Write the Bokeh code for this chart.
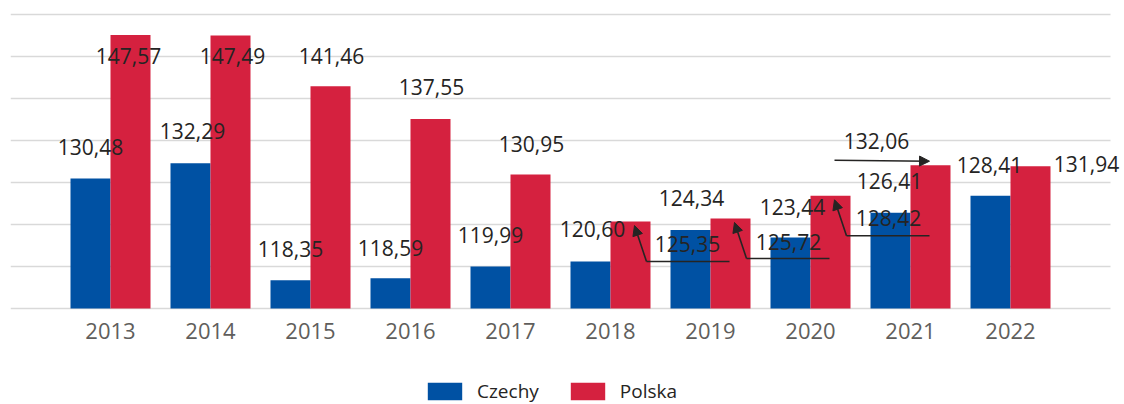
from bokeh.plotting import figure
from bokeh.models import (ColumnDataSource, Range1d, FixedTicker, LabelSet, Legend,
                          LegendItem, Arrow, NormalHead, Grid)
from bokeh.core.properties import value
from bokeh.embed import file_html
from bokeh.resources import INLINE

# ---------------- data ----------------
years = ["2013", "2014", "2015", "2016", "2017", "2018", "2019", "2020", "2021", "2022"]
czechy = [130.48, 132.29, 118.35, 118.59, 119.99, 120.60, 124.34, 123.44, 126.41, 128.41]
polska = [147.57, 147.49, 141.46, 137.55, 130.95, 125.35, 125.72, 128.42, 132.06, 131.94]
grid_values = [115, 120, 125, 130, 135, 140, 145, 150]

# ---------------- layout / style ----------------
BLUE = "#0051A3"
RED = "#D5213F"
TXT = "#252423"
AXT = "#605E5C"
FONT = "Open Sans"

W, H = 1124, 404
BL, BR, BT = 10, 0, 10
TOP_GAP = 4                   # px between frame top and the top gridline
BASE_PX = 294                 # pixel height of the gridded value area (115..150)
BELOW_PX = H - BT - TOP_GAP - BASE_PX   # space under the baseline for axis labels + legend
CAT_PX = 100                  # pixels per category slot
FW = W - BL - BR
X0 = -1
XG1 = len(years)              # right end of the gridded area
X1 = X0 + FW / CAT_PX         # a bit of room for the last outside label
G0, G1 = grid_values[0], grid_values[-1]
PY = (G1 - G0) / BASE_PX
PX = 1 / CAT_PX
Y0 = G0 - BELOW_PX * PY
Y1 = G1 + TOP_GAP * PY
DODGE = 0.2
BAR_W = 0.4

# label offsets (screen px, +x right, +y down)
cz_off = [(0, -31), (2, -32), (0, -31), (0, -30), (0, -32), (2, -32), (1, -32), (2, -31), (-1, -32), (-1, -31)]
pl_off = [(-2, 21), (2, 20), (1, -30), (1, -32), (1, -31), (57, 22), (58, 24), (58, 22), (-54, -24), (56, -2)]
elbow_leaders = [5, 6, 7]      # Polska labels moved below-right with an elbow leader
straight_leaders = [8]         # Polska label moved left with a straight leader


def fmt(v):
    return f"{v:.2f}".replace(".", ",")


idx = list(range(len(years)))
src = ColumnDataSource(dict(
    idx=idx,
    cz_x=[i - DODGE for i in idx],
    pl_x=[i + DODGE for i in idx],
    cz=czechy, pl=polska,
    cz_lbl=[fmt(v) for v in czechy], pl_lbl=[fmt(v) for v in polska],
    cz_dx=[o[0] for o in cz_off], cz_dy=[-o[1] for o in cz_off],
    pl_dx=[o[0] for o in pl_off], pl_dy=[-o[1] for o in pl_off],
))

p = figure(width=W, height=H, output_backend="svg", toolbar_location=None,
           x_range=Range1d(X0, X1), y_range=Range1d(Y0, Y1),
           y_axis_location=None,
           min_border_left=BL, min_border_right=BR, min_border_top=BT, min_border_bottom=0)
p.outline_line_color = None
p.xgrid.visible = False
p.ygrid.visible = False
p.background_fill_color = "white"
p.border_fill_color = "white"

g = Grid(dimension=1, ticker=FixedTicker(ticks=grid_values), cross_bounds=(X0, XG1),
         grid_line_color="#D9D9D9", grid_line_width=1.5)
p.add_layout(g)

xa = p.xaxis[0]
xa.fixed_location = G0
xa.ticker = FixedTicker(ticks=idx)
xa.major_label_overrides = {i: y for i, y in zip(idx, years)}
xa.axis_line_color = None
xa.major_tick_line_color = None
xa.minor_tick_line_color = None
xa.major_tick_out = 0
xa.major_tick_in = 0
xa.major_label_standoff = 14
xa.major_label_text_font = FONT
xa.major_label_text_font_size = "22px"
xa.major_label_text_color = AXT

r_cz = p.vbar(x="cz_x", top="cz", bottom=G0, width=BAR_W, source=src,
              fill_color=BLUE, line_color=None)
r_pl = p.vbar(x="pl_x", top="pl", bottom=G0, width=BAR_W, source=src,
              fill_color=RED, line_color=None)

for xf, yf, tf, dxf, dyf in (("cz_x", "cz", "cz_lbl", "cz_dx", "cz_dy"),
                             ("pl_x", "pl", "pl_lbl", "pl_dx", "pl_dy")):
    p.add_layout(LabelSet(x=xf, y=yf, text=tf, x_offset=dxf, y_offset=dyf, source=src,
                          text_align="center", text_baseline="middle",
                          text_font=value(FONT), text_font_size=value("21px"),
                          text_color=TXT))

# leader lines
ex = [idx[i] + DODGE for i in elbow_leaders]
ey = [polska[i] for i in elbow_leaders]
elb = ColumnDataSource(dict(
    tip_x=[x + 4 * PX for x in ex], tip_y=[y - 4 * PY for y in ey],
    bend_x=[x + 16 * PX for x in ex], bend_y=[y - 40 * PY for y in ey],
    end_x=[x + 99 * PX for x in ex], end_y=[y - 40 * PY for y in ey],
))
p.segment(x0="bend_x", y0="bend_y", x1="end_x", y1="end_y", source=elb,
          line_color=TXT, line_width=1.6)
p.add_layout(Arrow(end=NormalHead(size=10, fill_color=TXT, line_color=TXT),
                   x_start="bend_x", y_start="bend_y", x_end="tip_x", y_end="tip_y",
                   source=elb, line_color=TXT, line_width=1.6))

sx = [idx[i] + DODGE for i in straight_leaders]
sy = [polska[i] for i in straight_leaders]
st = ColumnDataSource(dict(
    x0=[x - 96 * PX for x in sx], y0=[y + 5 * PY for y in sy],
    x1=[x - 1 * PX for x in sx], y1=[y + 4 * PY for y in sy],
))
p.add_layout(Arrow(end=NormalHead(size=10, fill_color=TXT, line_color=TXT),
                   x_start="x0", y_start="y0", x_end="x1", y_end="y1",
                   source=st, line_color=TXT, line_width=1.6))

legend = Legend(items=[LegendItem(label="Czechy", renderers=[r_cz]),
                       LegendItem(label="Polska", renderers=[r_pl])],
                orientation="horizontal", location=(413, 0),
                padding=0, margin=0, spacing=27, label_standoff=11,
                glyph_width=43, glyph_height=22, label_height=22,
                label_text_font=FONT, label_text_font_size="19px", label_text_color=TXT,
                background_fill_alpha=0, border_line_alpha=0)
p.add_layout(legend, "center")

open("out.html", "w").write(file_html(p, INLINE))
